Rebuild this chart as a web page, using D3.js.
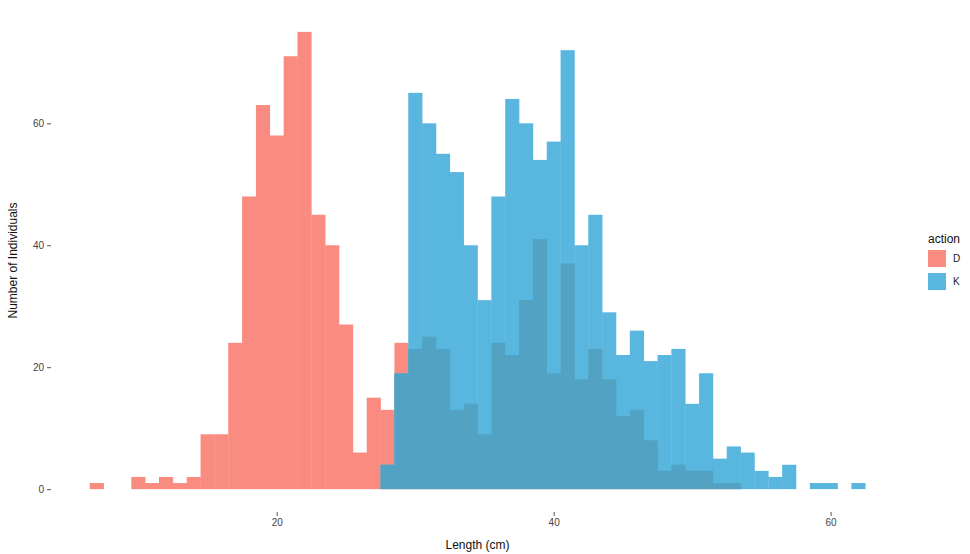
<!DOCTYPE html>
<html>
<head>
<meta charset="utf-8">
<script src="https://cdn.jsdelivr.net/npm/d3@7"></script>
<style>
  body { margin: 0; background: #fff; }
  svg { display: block; font-family: "Liberation Sans", Arial, sans-serif; }
</style>
</head>
<body>
<svg id="chart" width="970" height="554"></svg>
<script>
// Histogram bins (binwidth 1 cm, centred on whole numbers)
const binsD   = [7, 8, 9, 10, 11, 12, 13, 14, 15, 16, 17, 18, 19, 20, 21, 22, 23, 24, 25, 26, 27, 28, 29, 30,
                 31, 32, 33, 34, 35, 36, 37, 38, 39, 40, 41, 42, 43, 44, 45, 46, 47, 48, 49, 50, 51, 52, 53];
const countsD = [1, 0, 0, 2, 1, 2, 1, 2, 9, 9, 24, 48, 63, 58, 71, 75, 45, 40, 27, 6, 15, 13, 24, 23,
                 25, 23, 13, 14, 9, 24, 22, 31, 41, 19, 37, 18, 23, 18, 12, 13, 8, 3, 4, 3, 3, 1, 1];

const binsK   = [28, 29, 30, 31, 32, 33, 34, 35, 36, 37, 38, 39, 40, 41, 42, 43, 44, 45, 46, 47, 48,
                 49, 50, 51, 52, 53, 54, 55, 56, 57, 58, 59, 60, 61, 62];
const countsK = [4, 19, 65, 60, 55, 52, 40, 31, 48, 64, 60, 54, 57, 72, 40, 45, 29, 22, 26, 21, 22,
                 23, 14, 19, 5, 7, 6, 3, 2, 4, 0, 1, 1, 0, 1];

const actions = ['D', 'K'];
const xTicks = [20, 40, 60];
const yTicks = [0, 20, 40, 60];

const colD = '#fa8b81';
const colK = '#58b6df';
const colBoth = '#52a2c3';

const svg = d3.select('#chart');

// panel
const panel = {left: 51, right: 904, top: 9, bottom: 512};

const x = d3.scaleLinear().domain([3.7, 65.3]).range([panel.left, panel.right]);
const y = d3.scaleLinear().domain([-3.75, 78.75]).range([panel.bottom, panel.top]);

const dataD = binsD.map((b, i) => ({bin: b, n: countsD[i]}));
const dataK = binsK.map((b, i) => ({bin: b, n: countsK[i]}));

// overlap where both groups have counts (D lies under K)
const lookupD = new Map(dataD.map(d => [d.bin, d.n]));
const dataBoth = dataK
    .filter(d => lookupD.has(d.bin))
    .map(d => ({bin: d.bin, n: Math.min(d.n, lookupD.get(d.bin))}));

function drawBars(data, fill, cls) {
    svg.append('g').selectAll('rect.' + cls)
        .data(data.filter(d => d.n > 0))
        .enter()
        .append('rect')
        .attr('class', cls)
        .attr('x', d => x(d.bin - 0.5))
        .attr('width', d => x(d.bin + 0.5) - x(d.bin - 0.5) + 0.3)
        .attr('y', d => y(d.n))
        .attr('height', d => y(0) - y(d.n))
        .attr('fill', fill);
}

drawBars(dataD, colD, 'bar-d');
drawBars(dataK, colK, 'bar-k');
drawBars(dataBoth, colBoth, 'bar-both');

// x axis
const xAxis = svg.append('g')
    .attr('transform', `translate(0,${panel.bottom})`)
    .call(d3.axisBottom(x).tickValues(xTicks).tickSize(4).tickPadding(3));
xAxis.select('.domain').remove();
xAxis.selectAll('line').attr('stroke', '#555');
xAxis.selectAll('text').attr('font-size', '10px').attr('fill', '#444');

// y axis
const yAxis = svg.append('g')
    .attr('transform', `translate(${panel.left},0)`)
    .call(d3.axisLeft(y).tickValues(yTicks).tickSize(4).tickPadding(3));
yAxis.select('.domain').remove();
yAxis.selectAll('line').attr('stroke', '#555');
yAxis.selectAll('text').attr('font-size', '10px').attr('fill', '#444');

// axis titles
svg.append('text')
    .attr('x', (panel.left + panel.right) / 2)
    .attr('y', 549)
    .attr('text-anchor', 'middle')
    .attr('font-size', '12px')
    .attr('fill', '#111')
    .text('Length (cm)');

svg.append('text')
    .attr('transform', `translate(17,${(panel.top + panel.bottom) / 2}) rotate(-90)`)
    .attr('text-anchor', 'middle')
    .attr('font-size', '12px')
    .attr('fill', '#111')
    .text('Number of Individuals');

// legend
const legend = svg.append('g').attr('transform', 'translate(928,0)');
legend.append('text')
    .attr('x', 0)
    .attr('y', 243)
    .attr('font-size', '12px')
    .attr('fill', '#111')
    .text('action');

const keyColors = [colD, colK];
actions.forEach((a, i) => {
    legend.append('rect')
        .attr('x', 0)
        .attr('y', 250 + i * 23)
        .attr('width', 18)
        .attr('height', 17)
        .attr('fill', keyColors[i]);
    legend.append('text')
        .attr('x', 25)
        .attr('y', 262 + i * 23)
        .attr('font-size', '10px')
        .attr('fill', '#222')
        .text(a);
});
</script>
</body>
</html>
